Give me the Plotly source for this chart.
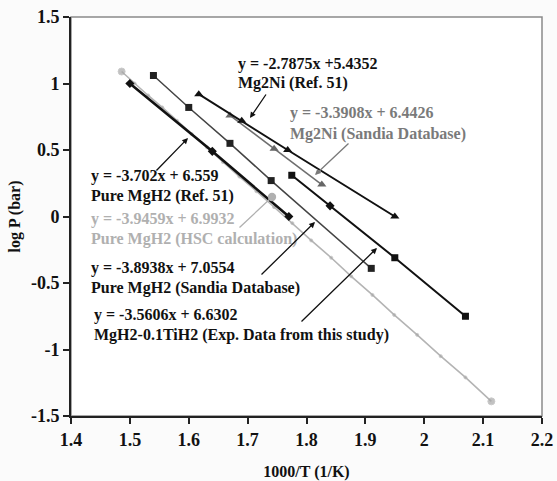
import plotly.graph_objects as go

# ---------------- data ----------------
mgh2_ref51_x = [1.50, 1.64, 1.77]
mgh2_ref51_y = [1.00, 0.49, 0.00]

hsc_x = [1.486, 1.508, 1.531, 1.555, 1.580, 1.605, 1.631, 1.658, 1.686, 1.715, 1.745,
         1.776, 1.808, 1.842, 1.876, 1.912, 1.949, 1.988, 2.028, 2.070, 2.114]
hsc_y = [1.09, 1.00, 0.91, 0.82, 0.72, 0.62, 0.52, 0.41, 0.30, 0.19, 0.07,
         -0.05, -0.18, -0.31, -0.45, -0.59, -0.74, -0.89, -1.05, -1.21, -1.39]

mgh2_sandia_x = [1.54, 1.60, 1.67, 1.74, 1.91]
mgh2_sandia_y = [1.06, 0.82, 0.55, 0.27, -0.39]

exp_x = [1.775, 1.84, 1.95, 2.07]
exp_y = [0.31, 0.08, -0.31, -0.75]

mg2ni_ref51_x = [1.617, 1.69, 1.768, 1.95]
mg2ni_ref51_y = [0.92, 0.72, 0.50, 0.00]

mg2ni_sandia_x = [1.67, 1.745, 1.826]
mg2ni_sandia_y = [0.76, 0.51, 0.24]

x_ticks = [1.4, 1.5, 1.6, 1.7, 1.8, 1.9, 2.0, 2.1, 2.2]
x_tick_labels = ["1.4", "1.5", "1.6", "1.7", "1.8", "1.9", "2", "2.1", "2.2"]
y_ticks = [-1.5, -1.0, -0.5, 0.0, 0.5, 1.0, 1.5]
y_tick_labels = ["-1.5", "-1", "-0.5", "0", "0.5", "1", "1.5"]

labels = [
    ("y = -2.7875x +5.4352", "Mg2Ni (Ref. 51)"),
    ("y = -3.3908x + 6.4426", "Mg2Ni (Sandia Database)"),
    ("y = -3.702x + 6.559", "Pure MgH2 (Ref. 51)"),
    ("y = -3.9459x + 6.9932", "Pure MgH2 (HSC calculation)"),
    ("y = -3.8938x + 7.0554", "Pure MgH2 (Sandia Database)"),
    ("y = -3.5606x + 6.6302", "MgH2-0.1TiH2 (Exp. Data from this study)"),
]

# ---------------- figure ----------------
W, H = 557, 481
ML, MR, MT, MB = 71, 15, 17, 65
X0, X1, Y0, Y1 = 1.4, 2.2, -1.5, 1.5
pw, ph = W - ML - MR, H - MT - MB
FONT = "Liberation Serif"


def px2x(px):
    return X0 + (px - ML) / pw * (X1 - X0)


def py2y(py):
    return Y1 - (py - MT) / ph * (Y1 - Y0)


fig = go.Figure()

fig.add_trace(go.Scatter(x=hsc_x, y=hsc_y, mode="lines+markers",
                         line=dict(color="#b4b4b4", width=1.6),
                         marker=dict(symbol="circle",
                                     size=[7] + [3] * (len(hsc_x) - 2) + [7],
                                     color="#a8a8a8"),
                         showlegend=False))
fig.add_trace(go.Scatter(x=mgh2_ref51_x, y=mgh2_ref51_y, mode="lines+markers",
                         line=dict(color="#111111", width=2.6),
                         marker=dict(symbol="diamond", size=7, color="#111111"),
                         showlegend=False))
fig.add_trace(go.Scatter(x=mgh2_sandia_x, y=mgh2_sandia_y, mode="lines+markers",
                         line=dict(color="#444444", width=1.5),
                         marker=dict(symbol="square", size=7, color="#222222"),
                         showlegend=False))
fig.add_trace(go.Scatter(x=exp_x, y=exp_y, mode="lines+markers",
                         line=dict(color="#111111", width=2),
                         marker=dict(symbol=["square", "diamond", "square", "square"],
                                     size=7, color="#111111"),
                         showlegend=False))
fig.add_trace(go.Scatter(x=mg2ni_sandia_x, y=mg2ni_sandia_y, mode="lines+markers",
                         line=dict(color="#6e6e6e", width=1.5),
                         marker=dict(symbol="triangle-up", size=8, color="#666666"),
                         showlegend=False))
fig.add_trace(go.Scatter(x=mg2ni_ref51_x, y=mg2ni_ref51_y, mode="lines+markers",
                         line=dict(color="#111111", width=2),
                         marker=dict(symbol="triangle-up", size=8, color="#111111"),
                         showlegend=False))

# text label positions (pixel) and colours
label_pos = [(236, 64, 83), (288, 113, 134), (89, 176, 196),
             (89, 219, 239), (89, 268, 288), (92, 315, 335)]
label_col = ["#111111", "#7a7a7a", "#111111", "#b0b0b0", "#111111", "#111111"]

annotations = []
for (l1, l2), (lx, y1, y2), c in zip(labels, label_pos, label_col):
    for txt, yy in ((l1, y1), (l2, y2)):
        annotations.append(dict(x=px2x(lx), y=py2y(yy), xref="x", yref="y",
                                text="<b>" + txt + "</b>", showarrow=False,
                                xanchor="left", yanchor="middle",
                                font=dict(family=FONT, size=16, color=c)))

arrows = [((267, 93), (250, 118), "#111111", 2),
          ((350, 142), (315, 175), "#7a7a7a", 2),
          ((155, 172), (188, 138), "#111111", 2),
          ((238, 229), (272, 197), "#b0b0b0", 6),
          ((260, 276), (315, 222), "#111111", 2),
          ((300, 323), (377, 248), "#111111", 2)]
for (tx, ty), (hx, hy), c, head in arrows:
    annotations.append(dict(x=px2x(hx), y=py2y(hy), ax=px2x(tx), ay=py2y(ty),
                            xref="x", yref="y", axref="x", ayref="y",
                            text="", showarrow=True, arrowhead=head,
                            arrowsize=0.9 if head != 6 else 1.6, arrowwidth=1.3,
                            arrowcolor=c))

fig.update_layout(
    width=W, height=H,
    margin=dict(l=ML, r=MR, t=MT, b=MB),
    paper_bgcolor="#fbfbfb", plot_bgcolor="white",
    annotations=annotations,
    shapes=[dict(type="rect", xref="paper", yref="paper", x0=0, y0=0, x1=1, y1=1,
                 line=dict(color="#8a8a8a", width=1.5), layer="below")],
    font=dict(family=FONT, color="#111111"),
)
fig.update_xaxes(range=[X0, X1], tickvals=x_ticks, automargin=False,
                 ticktext=["<b>" + t + "</b>" for t in x_tick_labels],
                 showgrid=False, zeroline=False, showline=True, linecolor="#222222",
                 linewidth=2, ticks="outside", ticklen=6, tickwidth=1.5,
                 tickcolor="#222222",
                 tickfont=dict(family=FONT, size=18, color="#111111"),
                 title=dict(text="<b>1000/T (1/K)</b>", standoff=18,
                            font=dict(family=FONT, size=16, color="#111111")))
fig.update_yaxes(range=[Y0, Y1], tickvals=y_ticks, automargin=False,
                 ticktext=["<b>" + t + "</b>" for t in y_tick_labels],
                 showgrid=False, zeroline=False, showline=True, linecolor="#222222",
                 linewidth=2, ticks="outside", ticklen=6, tickwidth=1.5,
                 tickcolor="#222222",
                 tickfont=dict(family=FONT, size=18, color="#111111"),
                 title=dict(text="<b>log P (bar)</b>", standoff=6,
                            font=dict(family=FONT, size=16, color="#111111")))

fig.write_html("out.html")
